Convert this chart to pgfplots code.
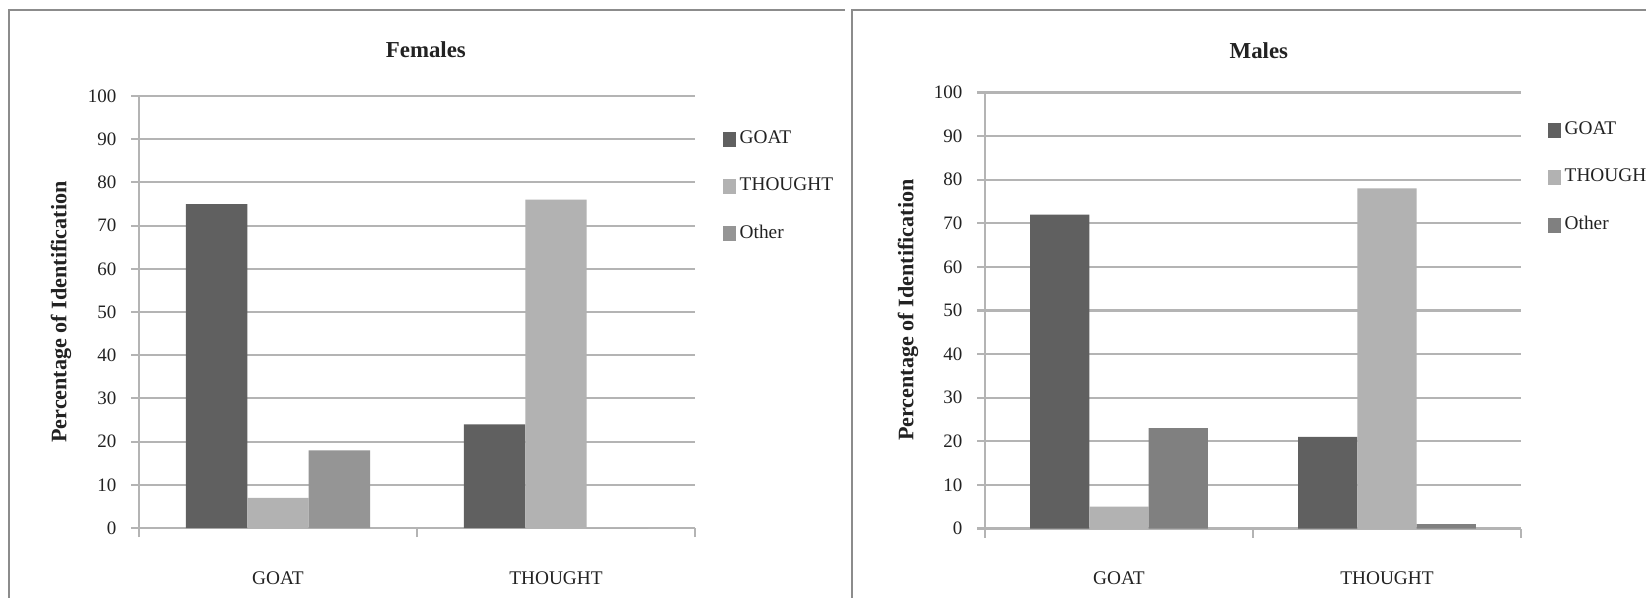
\documentclass[border=0pt]{standalone}
\usepackage{fontspec}
\setmainfont{Liberation Serif}
\usepackage{pgfplots}
\pgfplotsset{compat=1.18}
\definecolor{cdark}{HTML}{606060}
\definecolor{clight}{HTML}{B2B2B2}
\definecolor{cotherF}{HTML}{959595}
\definecolor{cotherM}{HTML}{808080}
\definecolor{cgrid}{HTML}{B4B4B4}
\definecolor{cframe}{HTML}{8C8C8C}
\definecolor{ctext}{HTML}{222222}
\pgfplotsset{
  panel/.style={
    scale only axis,
    anchor=south west,
    ybar,
    xmin=-0.5, xmax=1.5,
    ymin=0, ymax=100,
    ytick={0,10,...,100},
    xtick={0,1},
    xticklabels={GOAT,THOUGHT},
    axis x line*=bottom,
    axis y line*=left,
    axis line style={draw=cgrid, line width=0.6pt},
    tick align=outside,
    major tick length=0.08cm,
    major tick style={draw=cgrid, line width=0.6pt},
    major x tick style={draw=none},
    extra x ticks={-0.5,0.5,1.5},
    extra x tick labels={},
    extra x tick style={major x tick style={draw=cgrid, line width=0.6pt}, major tick length=0.09cm},
    ymajorgrids=true,
    grid style={draw=cgrid, line width=0.6pt},
    bar width=0.221,
    /pgf/number format/assume math mode=true,
    yticklabel style={font=\fontsize{5.4}{6}\selectfont, text=ctext, anchor=east, inner sep=0pt, xshift=-0.14cm},
    xticklabel style={font=\fontsize{5.5}{6}\selectfont, text=ctext, anchor=center, yshift=-0.42cm},
    ylabel={Percentage of Identification},
    ylabel style={font=\bfseries\fontsize{6.3}{7}\selectfont, text=ctext, anchor=center},
    every axis title shift=0pt,
    title style={font=\bfseries\fontsize{6.5}{7}\selectfont, text=ctext, anchor=center},
    legend cell align=left,
    legend image code/.code={\fill[##1] (0cm,-0.075cm) rectangle (0.13cm,0.075cm);},
    legend style={draw=none, fill=none, font=\fontsize{5.5}{6}\selectfont, text=ctext,
      anchor=north west, inner sep=0pt, row sep=0.21cm,
      nodes={inner sep=0.04cm}},
  }
}
\begin{document}
\begin{tikzpicture}
\path[use as bounding box] (0,0) rectangle (16.46cm,5.97cm);
\fill[white] (0,0) rectangle (16.46cm,5.97cm);
\draw[cframe, line width=0.6pt] (0.09cm,-0.5cm) -- (0.09cm,5.87cm) -- (8.45cm,5.87cm);
\draw[cframe, line width=0.6pt] (8.52cm,-0.5cm) -- (8.52cm,5.87cm) -- (17cm,5.87cm);
\begin{axis}[panel,
  at={(1.39cm,0.69cm)}, width=5.56cm, height=4.32cm,
  title={Females},
  title style={at={(axis description cs:0.516,1.1076)}},
  ylabel style={at={(axis description cs:-0.1403,0.5)}},
  legend style={at={(axis description cs:1.0486,0.931)}},
]
\addplot[fill=cdark, draw=none, bar shift=-0.221] coordinates {(0,75) (1,24)};
\addplot[fill=clight, draw=none, bar shift=0] coordinates {(0,7) (1,76)};
\addplot[fill=cotherF, draw=none, bar shift=0.221] coordinates {(0,18) (1,0)};
\legend{GOAT,THOUGHT,Other}
\end{axis}
\begin{axis}[panel,
  at={(9.85cm,0.685cm)}, width=5.36cm, height=4.36cm,
  title={Males},
  title style={at={(axis description cs:0.511,1.0954)}},
  ylabel style={at={(axis description cs:-0.1437,0.501)}},
  legend style={at={(axis description cs:1.0485,0.9435)}},
]
\addplot[fill=cdark, draw=none, bar shift=-0.221] coordinates {(0,72) (1,21)};
\addplot[fill=clight, draw=none, bar shift=0] coordinates {(0,5) (1,78)};
\addplot[fill=cotherM, draw=none, bar shift=0.221] coordinates {(0,23) (1,1)};
\legend{GOAT,THOUGHT,Other}
\end{axis}
\end{tikzpicture}
\end{document}
